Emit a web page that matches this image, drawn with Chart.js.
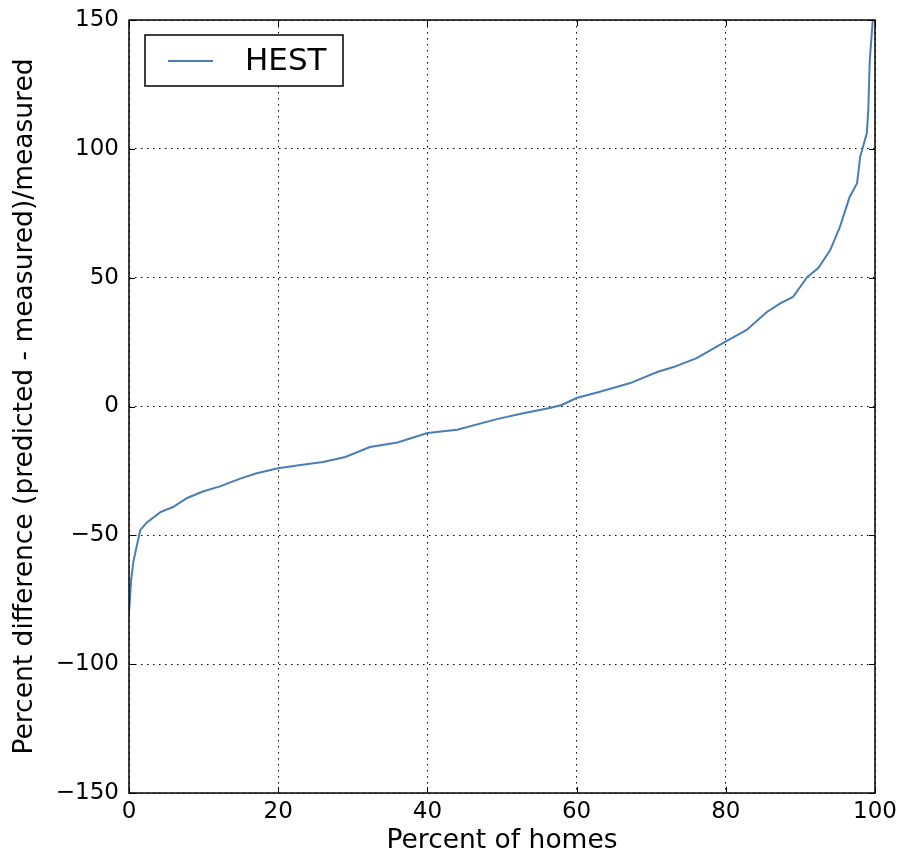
<!DOCTYPE html>
<html>
<head>
<meta charset="utf-8">
<script src="https://cdn.jsdelivr.net/npm/chart.js@4"></script>
<style>
  html, body { margin: 0; padding: 0; background: #fff; }
  #wrap { width: 900px; height: 857px; }
</style>
</head>
<body>
<div id="wrap"><canvas id="chart-diff"></canvas></div>
<script>
const lineColor = "#4a7db3";
const fontFamily = "'DejaVu Sans', sans-serif";

// sorted percent differences vs. cumulative share of homes
const percentHomes = [0, 0.3, 0.6, 1.5, 2.4, 4.2, 5.9, 7.8, 9.9, 12.2, 14.9, 17, 20, 23, 26, 29, 32.3, 36, 40, 44, 49.3, 53, 56.4, 58, 60, 63, 67.2, 70.8, 73, 76.1, 79.6, 82.8, 85.5, 87.3, 89, 90.9, 92.4, 94, 95.3, 96.6, 97.6, 98, 98.9, 99.1, 99.3, 99.7];
const percentDiff = [-80, -67, -60, -48, -45, -41, -39, -35.5, -33, -31, -28, -26, -24, -22.7, -21.5, -19.6, -15.7, -14, -10.3, -9, -4.9, -2.5, -0.6, 0.6, 3.3, 5.6, 9.1, 13.4, 15.3, 18.8, 24.6, 29.7, 36.7, 40, 42.5, 50.2, 53.7, 60.7, 69.7, 81.3, 86.7, 96.8, 106, 115, 134.5, 150];

const xTicks = [0, 20, 40, 60, 80, 100];
const yTicks = [-150, -100, -50, 0, 50, 100, 150];

Chart.defaults.font.family = fontFamily;
Chart.defaults.color = "#000";

// frame, inward ticks on all four sides, and the boxed legend
const framePlugin = {
	id: "frame",
	afterDraw: function (chart) {
		const ctx = chart.ctx;
		const a = chart.chartArea;
		const xs = chart.scales.x;
		const ys = chart.scales.y;
		ctx.save();
		ctx.strokeStyle = "#000";
		ctx.lineWidth = 1;
		xTicks.forEach(function (t) {
			const px = Math.round(xs.getPixelForValue(t)) + 0.5;
			ctx.beginPath();
			ctx.moveTo(px, a.bottom);
			ctx.lineTo(px, a.bottom - 6);
			ctx.moveTo(px, a.top);
			ctx.lineTo(px, a.top + 6);
			ctx.stroke();
		});
		yTicks.forEach(function (t) {
			const py = Math.round(ys.getPixelForValue(t)) + 0.5;
			ctx.beginPath();
			ctx.moveTo(a.left, py);
			ctx.lineTo(a.left + 6, py);
			ctx.moveTo(a.right, py);
			ctx.lineTo(a.right - 6, py);
			ctx.stroke();
		});
		ctx.lineWidth = 1.5;
		ctx.strokeRect(a.left, a.top, a.right - a.left, a.bottom - a.top);

		// legend
		const lx = a.left + 16;
		const ly = a.top + 15;
		ctx.fillStyle = "#fff";
		ctx.fillRect(lx, ly, 198, 51);
		ctx.lineWidth = 1.5;
		ctx.strokeStyle = "#000";
		ctx.strokeRect(lx, ly, 198, 51);
		ctx.strokeStyle = lineColor;
		ctx.lineWidth = 2;
		ctx.beginPath();
		ctx.moveTo(lx + 23, ly + 26);
		ctx.lineTo(lx + 68, ly + 26);
		ctx.stroke();
		ctx.fillStyle = "#000";
		ctx.font = "31px " + fontFamily;
		ctx.textBaseline = "middle";
		ctx.fillText(chart.data.datasets[0].label, lx + 100, ly + 27);
		ctx.restore();
	},
};

const ctxDiff = document.getElementById("chart-diff").getContext("2d");

var chartDiff = new Chart(ctxDiff, {
	type: "line",
	data: {
		datasets: [
			{
				label: "HEST",
				data: percentHomes.map((x, i) => ({ x: x, y: percentDiff[i] })),
				borderColor: lineColor,
				borderWidth: 2,
				pointRadius: 0,
				tension: 0,
				fill: false,
			},
		],
	},
	options: {
		responsive: true,
		maintainAspectRatio: false,
		animation: false,
		layout: {
			padding: { left: 0, top: 20, right: 25, bottom: 0 },
		},
		plugins: {
			legend: { display: false },
			tooltip: { enabled: false },
		},
		scales: {
			x: {
				type: "linear",
				min: 0,
				max: 100,
				afterBuildTicks: function (scale) {
					scale.ticks = xTicks.map((v) => ({ value: v }));
				},
				afterFit: function (scale) {
					scale.height = 64;
					scale.paddingLeft = 0;
					scale.paddingRight = 0;
				},
				grid: { color: "#000", lineWidth: 1, drawTicks: false },
				border: { display: false, dash: [1.5, 4.5] },
				ticks: { padding: 5, font: { size: 23 }, color: "#000", maxRotation: 0 },
				title: {
					display: true,
					text: "Percent of homes",
					font: { size: 26.5 },
					color: "#000",
					padding: { top: 0, bottom: 0 },
				},
			},
			y: {
				type: "linear",
				min: -150,
				max: 150,
				afterBuildTicks: function (scale) {
					scale.ticks = yTicks.map((v) => ({ value: v }));
				},
				afterFit: function (scale) {
					scale.width = 129;
					scale.paddingTop = 0;
					scale.paddingBottom = 0;
				},
				grid: { color: "#000", lineWidth: 1, drawTicks: false },
				border: { display: false, dash: [1.5, 4.5] },
				ticks: {
					padding: 10,
					font: { size: 23 },
					color: "#000",
					callback: (v) => (v < 0 ? "\u2212" + Math.abs(v) : String(v)),
				},
				title: {
					display: true,
					text: "Percent difference (predicted - measured)/measured",
					font: { size: 26.5 },
					color: "#000",
					padding: { top: 9, bottom: 0 },
				},
			},
		},
	},
	plugins: [framePlugin],
});
</script>
</body>
</html>
